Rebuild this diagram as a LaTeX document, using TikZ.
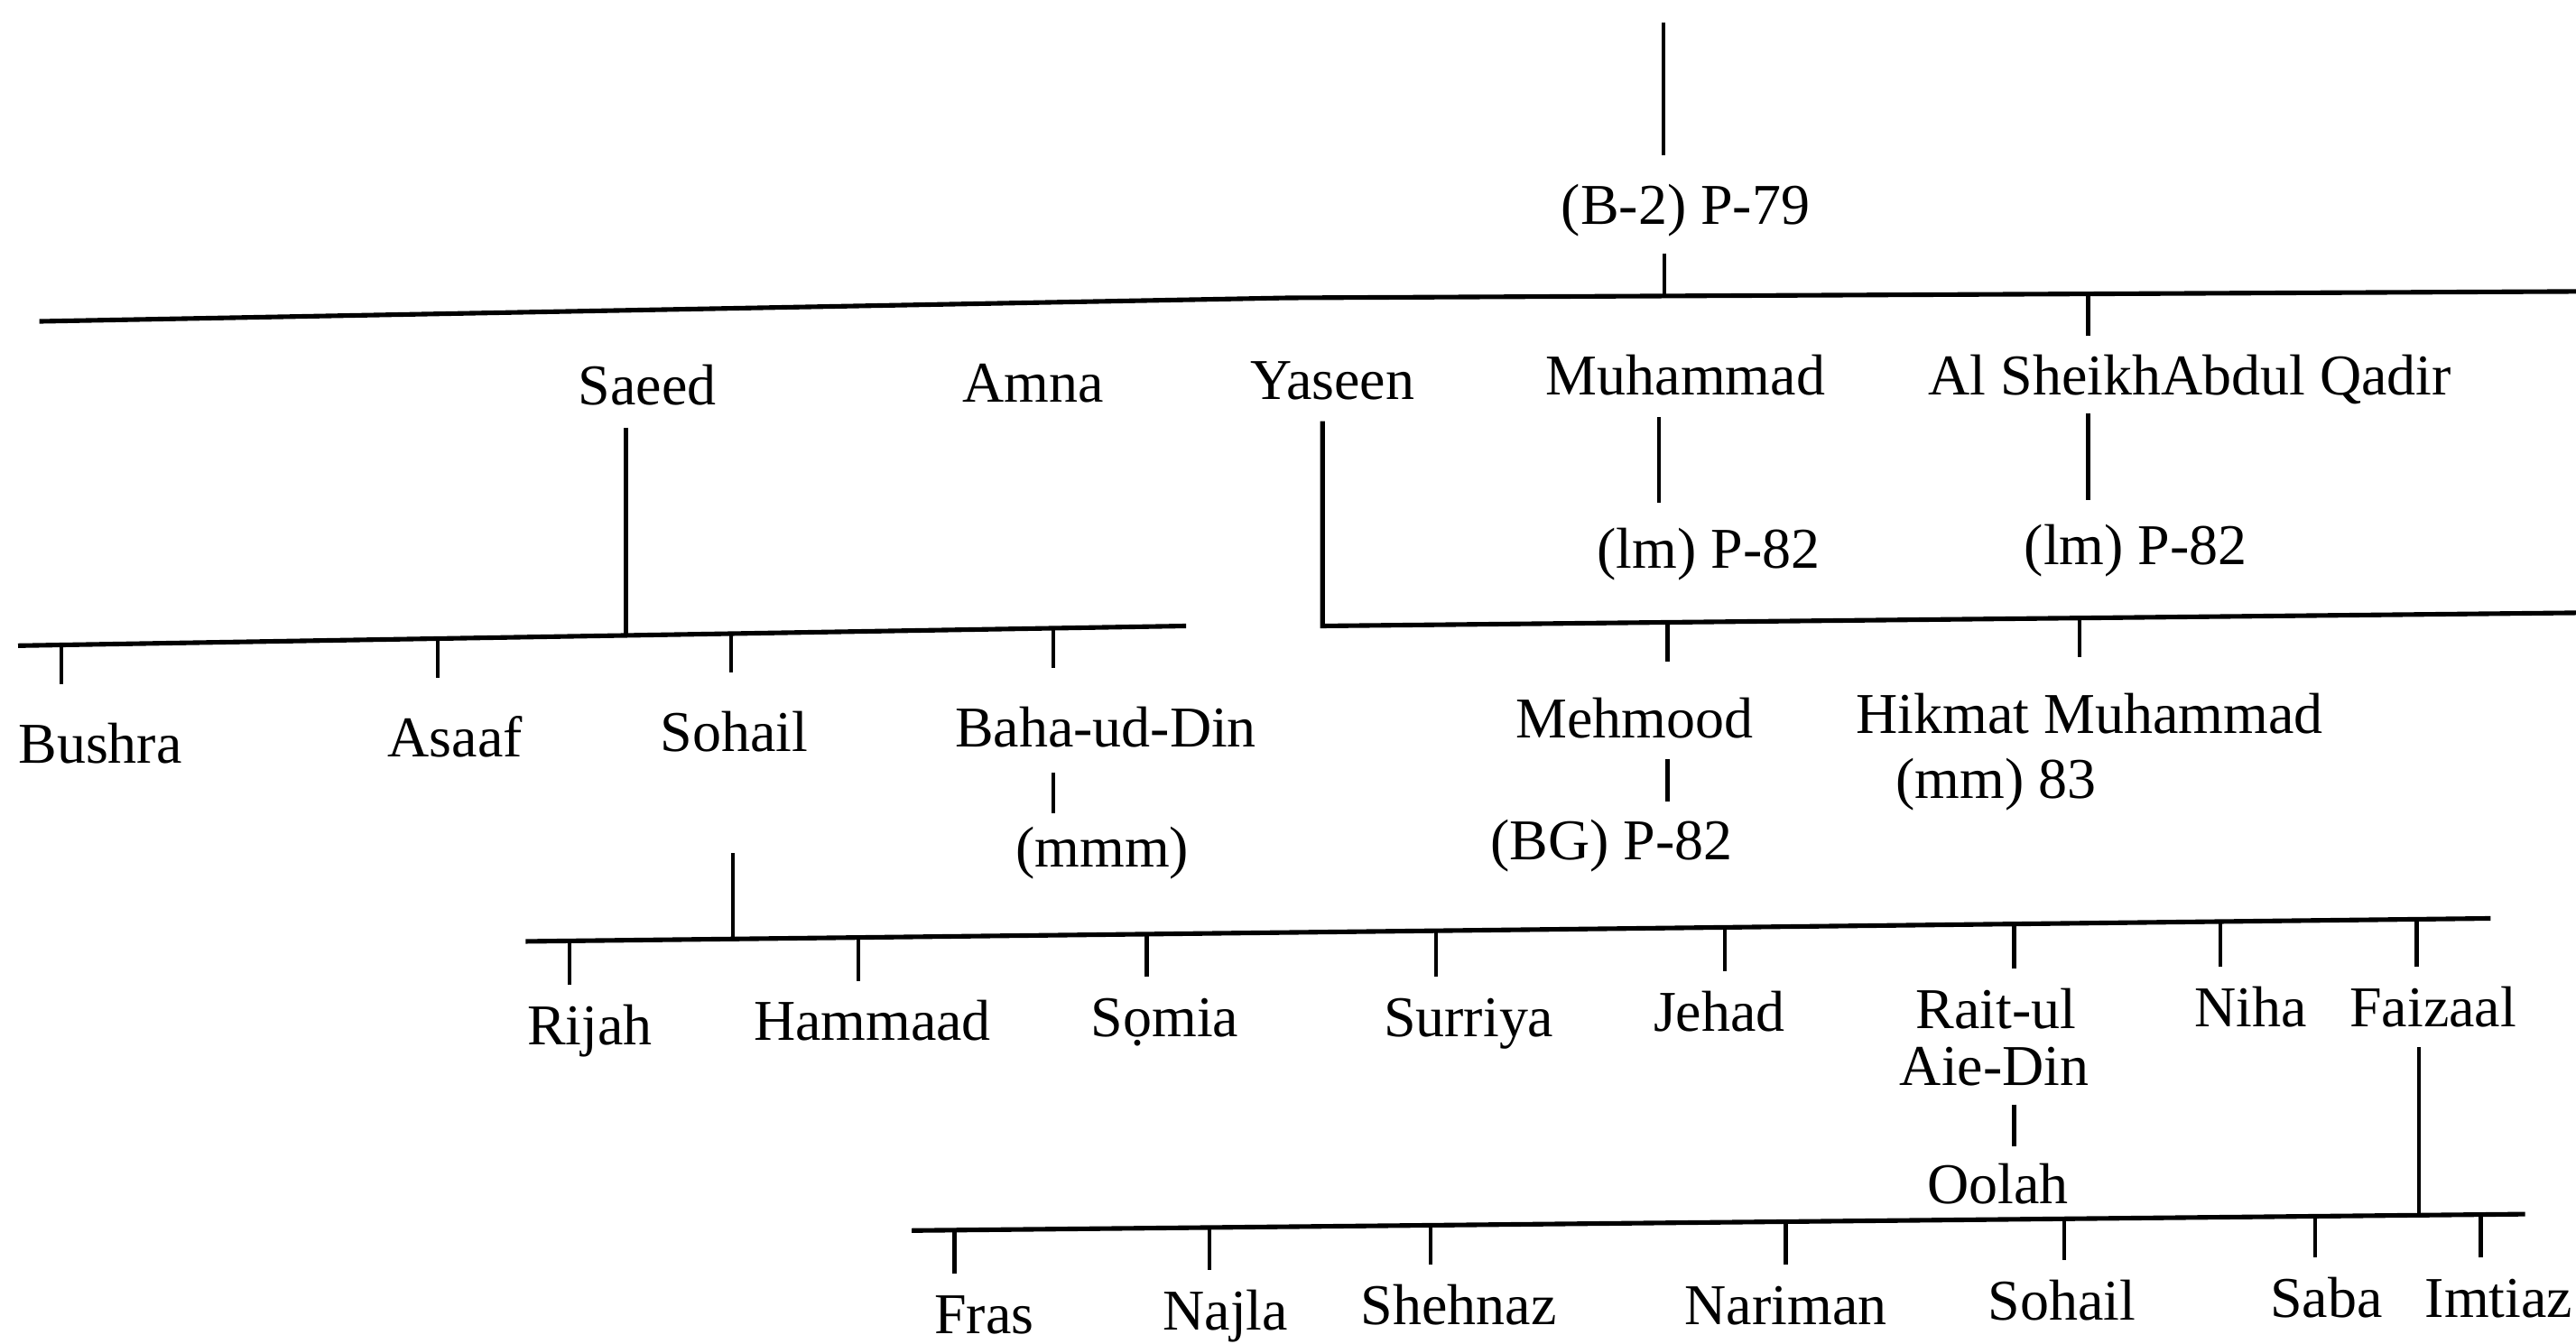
\documentclass[tikz,border=0pt]{standalone}
\usepackage{fontspec}
\setmainfont{Liberation Serif}

\tikzset{
  person/.style={anchor=base, inner sep=0pt, text height=14pt, text depth=4pt},
  link/.style={line width=1.3pt},
  bar/.style={line width=1.6pt},
  kid/.style={link, shorten >=0.46cm},
  leaf/.style={link, shorten >=0.23cm},
}

\begin{document}
\begin{tikzpicture}[x=0.02cm, y=-0.02cm, every node/.style={font=\fontsize{20pt}{24pt}\selectfont}]
	\useasboundingbox (0,0) rectangle (1568,818);
	% generation 0 and 1
	\node[person] (b2) at (1026,136.8) {(B-2) P-79};
	\node[person] (saeed) at (394,246.5) {Saeed};
	\node[person] (amna) at (629,244.5) {Amna};
	\node[person] (yaseen) at (811,243) {Yaseen};
	\node[person] (muhammad) at (1026,240.5) {Muhammad};
	\node[person] (sheikh) at (1333,240.5) {Al SheikhAbdul Qadir};
	\node[person] (lmA) at (1040,345.8) {(lm) P-82};
	\node[person] (lmB) at (1300,343.5) {(lm) P-82};
	% generation 2
	\node[person] (bushra) at (61,464.4) {Bushra};
	\node[person] (asaaf) at (277,460.4) {Asaaf};
	\node[person] (sohailA) at (447,457.4) {Sohail};
	\node[person] (baha) at (673,454.4) {Baha-ud-Din};
	\node[person] (mmm) at (671,527.7) {(mmm)};
	\node[person] (mehmood) at (995,449.4) {Mehmood};
	\node[person] (bg) at (981,523.4) {(BG) P-82};
	\node[person] (hikmat) at (1272,446.4) {Hikmat Muhammad};
	\node[person] (mm) at (1215,485.8) {(mm) 83};
	% generation 3
	\node[person] (rijah) at (359,636) {Rijah};
	\node[person] (hammaad) at (531,633.4) {Hammaad};
	\node[person] (somia) at (709,631) {Sọmia};
	\node[person] (surriya) at (894,631) {Surriya};
	\node[person] (jehad) at (1046.5,627.7) {Jehad};
	\node[person] (rait) at (1215,626) {Rait-ul};
	\node[person] (aiedin) at (1214,660.4) {Aie-Din};
	\node[person] (niha) at (1370,625) {Niha};
	\node[person] (faizaal) at (1481,625) {Faizaal};
	\node[person] (oolah) at (1216,732.4) {Oolah};
	% generation 4
	\node[person] (fras) at (599,811.5) {Fras};
	\node[person] (najla) at (746,809.5) {Najla};
	\node[person] (shehnaz) at (888,806) {Shehnaz};
	\node[person] (nariman) at (1087,806) {Nariman};
	\node[person] (sohailB) at (1255,803.3) {Sohail};
	\node[person] (saba) at (1416,802) {Saba};
	\node[person] (imtiaz) at (1521,802) {Imtiaz};

	% main bar
	\coordinate (m0) at (24,195.6);
	\coordinate (m1) at (784,181.3);
	\coordinate (m2) at (1568,177.4);
	\draw[bar] (m0) -- (m1) -- (m2);
	\coordinate (top) at (1012.5,14);
	\coordinate (jroot) at (1013,180.2);
	\draw[link, shorten >=0.35cm] (top) -- (top |- b2.north);
	\draw[link, shorten <=0.2cm] (jroot |- b2.south) -- (jroot);
	\coordinate (jsheikh) at (1271,178.9);
	\draw[link, shorten >=0.22cm] (jsheikh) -- (jsheikh |- sheikh.north);
	\draw[link, shorten <=0.08cm, shorten >=0.28cm] (jsheikh |- sheikh.south) -- (jsheikh |- lmB.north);
	\coordinate (vmuh) at (1010,0);
	\draw[link, shorten <=0.12cm, shorten >=0.3cm] (vmuh |- muhammad.south) -- (vmuh |- lmA.north);

	% Saeed's children
	\coordinate (s0) at (11,393);
	\coordinate (s1) at (722,381);
	\draw[bar] (s0) -- (s1);
	\coordinate (jsaeed) at (381,386.8);
	\draw[link, shorten <=0.13cm] (jsaeed |- saeed.south) -- (jsaeed);
	\coordinate (tbushra) at (37.5,392.5);
	\coordinate (tasaaf) at (266.5,388.7);
	\coordinate (tsohailA) at (445,385.7);
	\coordinate (tbaha) at (641,382.4);
	\draw[kid] (tbushra) -- (tbushra |- bushra.north);
	\draw[kid] (tasaaf) -- (tasaaf |- asaaf.north);
	\draw[kid] (tsohailA) -- (tsohailA |- sohailA.north);
	\draw[kid] (tbaha) -- (tbaha |- baha.north);
	\draw[link, shorten <=0.17cm, shorten >=0.16cm] (tbaha |- baha.south) -- (tbaha |- mmm.north);

	% Yaseen's children
	\coordinate (y0) at (805,381);
	\coordinate (y1) at (1568,373);
	\draw[bar, shorten <=0.12cm] (y0 |- yaseen.south) -- (y0) -- (y1);
	\coordinate (tmehmood) at (1015,378.8);
	\coordinate (thikmat) at (1266,376.2);
	\draw[link, shorten >=0.43cm] (tmehmood) -- (tmehmood |- mehmood.north);
	\draw[link, shorten >=0.43cm] (thikmat) -- (thikmat |- hikmat.north);
	\draw[link, shorten <=0.11cm, shorten >=0.21cm] (tmehmood |- mehmood.south) -- (tmehmood |- bg.north);

	% Sohail's children
	\coordinate (d0) at (320,573);
	\coordinate (d1) at (1516,559);
	\draw[bar] (d0) -- (d1);
	\coordinate (jsohail) at (446,571.5);
	\draw[link, shorten <=1.09cm] (jsohail |- sohailA.south) -- (jsohail);
	\coordinate (trijah) at (346.5,572.7);
	\coordinate (thammaad) at (522.5,570.6);
	\coordinate (tsomia) at (698,568.6);
	\coordinate (tsurriya) at (874,566.5);
	\coordinate (tjehad) at (1050,564.4);
	\coordinate (trait) at (1226,562.4);
	\coordinate (tniha) at (1351.5,560.9);
	\coordinate (tfaizaal) at (1471,559.5);
	\draw[leaf] (trijah) -- (trijah |- rijah.north);
	\draw[leaf] (thammaad) -- (thammaad |- hammaad.north);
	\draw[leaf] (tsomia) -- (tsomia |- somia.north);
	\draw[leaf] (tsurriya) -- (tsurriya |- surriya.north);
	\draw[leaf] (tjehad) -- (tjehad |- jehad.north);
	\draw[leaf] (trait) -- (trait |- rait.north);
	\draw[leaf] (tniha) -- (tniha |- niha.north);
	\draw[leaf] (tfaizaal) -- (tfaizaal |- faizaal.north);
	\draw[link, shorten <=0.09cm, shorten >=0.19cm] (trait |- aiedin.south) -- (trait |- oolah.north);

	% Faizaal's children
	\coordinate (e0) at (555,749);
	\coordinate (e1) at (1537,739);
	\draw[bar] (e0) -- (e1);
	\coordinate (jfaizaal) at (1472.5,739.7);
	\draw[link, shorten <=0.1cm] (jfaizaal |- faizaal.south) -- (jfaizaal);
	\coordinate (tfras) at (581,748.7);
	\coordinate (tnajla) at (736,747.2);
	\coordinate (tshehnaz) at (871,745.8);
	\coordinate (tnariman) at (1087,743.6);
	\coordinate (tsohailB) at (1256.6,741.9);
	\coordinate (tsaba) at (1409,740.3);
	\coordinate (timtiaz) at (1510,739.3);
	\draw[leaf] (tfras) -- (tfras |- fras.north);
	\draw[leaf] (tnajla) -- (tnajla |- najla.north);
	\draw[leaf] (tshehnaz) -- (tshehnaz |- shehnaz.north);
	\draw[leaf] (tnariman) -- (tnariman |- nariman.north);
	\draw[leaf] (tsohailB) -- (tsohailB |- sohailB.north);
	\draw[leaf] (tsaba) -- (tsaba |- saba.north);
	\draw[leaf] (timtiaz) -- (timtiaz |- imtiaz.north);
\end{tikzpicture}
\end{document}
